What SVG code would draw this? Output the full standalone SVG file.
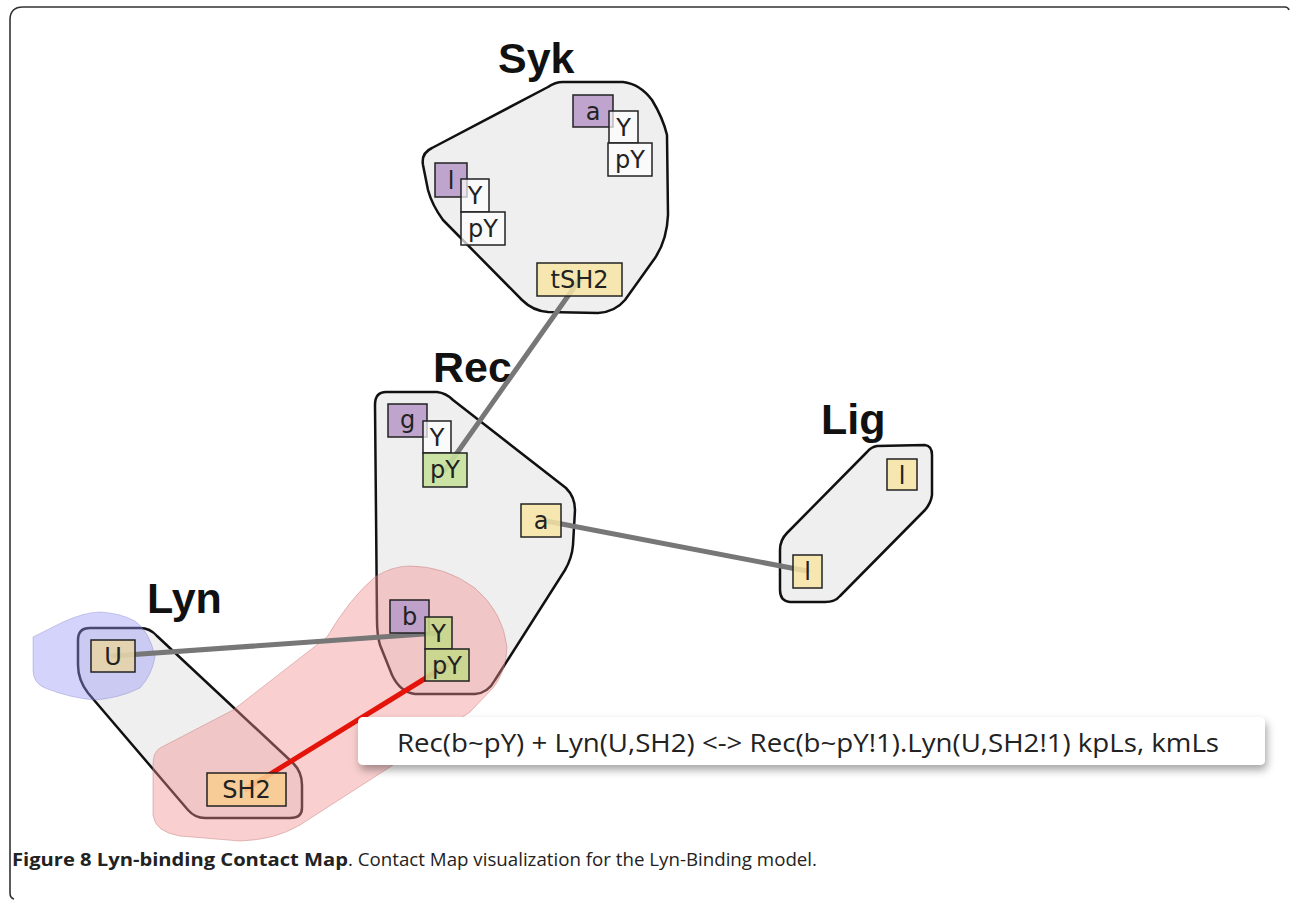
<svg xmlns="http://www.w3.org/2000/svg" width="1290" height="905" viewBox="0 0 1290 905">
<defs>
<style>
.cx{fill:#efefef;stroke:#111;stroke-width:2.5;stroke-linejoin:round}
.bx{stroke:#222;stroke-width:1.5}
.pu{fill:#b99bc9;fill-opacity:0.9}
.ye{fill:#f7e5a4;fill-opacity:0.85}
.gr{fill:#c6e29c;fill-opacity:0.9}
.gl{fill:#c6d78b;fill-opacity:0.9}
.wh{fill:#ffffff;fill-opacity:0.7}
.lb{font-family:"DejaVu Sans",sans-serif;font-size:24px;fill:#222;text-anchor:middle}
.ttl{font-family:"Liberation Sans",Arial,sans-serif;font-size:43px;font-weight:bold;fill:#111}
.cn{stroke:#777;stroke-width:5;stroke-linecap:round;fill:none}
</style>
<filter id="sh" x="-5%" y="-50%" width="110%" height="200%">
<feDropShadow dx="2" dy="5" stdDeviation="4" flood-color="#000" flood-opacity="0.35"/>
</filter>
</defs>
<rect width="1290" height="905" fill="#fff"/>
<path d="M14,899 Q10,898 10,893 L10,20 Q10,7 23,7 L1285,7 Q1288,7 1289,10" fill="none" stroke="#333" stroke-width="1.6"/>

<g id="syk">
<path class="cx" d="M563,82 L623,82 Q640,84 652,100 Q663,118 667,135 L668,215 Q667,240 655,258 L625,300 Q615,312 598,313 L548,312 Q533,311 522,300 L443,220 Q432,205 428,190 L423,165 Q421,153 432,148 L548,87 Q555,82 563,82 Z"/>
<text class="ttl" x="498" y="73">Syk</text>
</g>
<g id="rec">
<path class="cx" d="M386,392 L437,392 Q446,393 453,400 L566,488 Q575,497 575,510 L573,545 Q572,558 565,570 L495,680 Q488,693 475,694 L415,694 Q400,692 392,675 L380,645 Q377,635 377,620 L375,405 Q375,392 386,392 Z"/>
<text class="ttl" x="433" y="382">Rec</text>
</g>
<g id="lig">
<path class="cx" d="M877,446 L925,445 Q932,446 932,455 L932,495 Q931,503 925,510 L840,596 Q835,602 825,602 L790,602 Q780,601 780,590 L780,550 Q780,540 787,533 L867,452 Q871,447 877,446 Z"/>
<text class="ttl" x="821" y="434">Lig</text>
</g>
<g id="lyn">
<path class="cx" d="M90,628 L140,628 Q150,628 157,636 L293,763 Q302,772 302,785 L302,808 Q302,818 290,818 L205,818 Q195,818 188,810 L88,693 Q78,680 78,665 L78,640 Q78,628 90,628 Z"/>
<text class="ttl" x="147" y="613">Lyn</text>
</g>

<g id="highlights">
<path d="M33,637 L63,622 Q85,612 100,612 Q120,613 135,621 Q150,632 155,657 Q152,675 140,688 Q120,698 95,700 Q70,698 45,688 Q33,683 33,670 Z" fill="rgb(150,150,245)" fill-opacity="0.42" stroke="rgba(120,120,200,0.35)" stroke-width="1"/>
<path d="M160,748 L233,710 L327,637 Q350,598 375,577 Q392,566 410,566 Q445,566 475,588 Q503,612 507,647 Q506,672 493,688 L470,712 L390,767 L300,825 Q275,840 240,841 L180,836 Q155,832 153,815 L153,765 Q153,752 160,748 Z" fill="rgb(240,140,140)" fill-opacity="0.42" stroke="rgba(200,120,120,0.45)" stroke-width="1"/>
</g>

<g id="connectors">
<line class="cn" x1="580" y1="279" x2="445" y2="470"/>
<line class="cn" x1="541" y1="520" x2="807" y2="571"/>
<line class="cn" x1="113" y1="656" x2="438" y2="633"/>
<line class="cn" x1="246" y1="789" x2="447" y2="665" style="stroke:#e5140a"/>
</g>

<g id="syk-sites">
<rect class="bx pu" x="573" y="95" width="40" height="32"/>
<text class="lb" x="593" y="120">a</text>
<rect class="bx wh" x="609" y="111" width="29" height="32"/>
<text class="lb" x="623.5" y="136">Y</text>
<rect class="bx wh" x="608" y="143" width="44" height="33"/>
<text class="lb" x="630" y="168">pY</text>
<rect class="bx pu" x="435" y="163" width="32" height="34"/>
<text class="lb" x="451" y="189">l</text>
<rect class="bx wh" x="461" y="179" width="28" height="33"/>
<text class="lb" x="475" y="204">Y</text>
<rect class="bx wh" x="461" y="212" width="44" height="33"/>
<text class="lb" x="483" y="237">pY</text>
<rect class="bx ye" x="537" y="263" width="85" height="33"/>
<text class="lb" x="579.5" y="288">tSH2</text>
</g>
<g id="rec-sites">
<rect class="bx pu" x="388" y="404" width="39" height="33"/>
<text class="lb" x="407.5" y="428">g</text>
<rect class="bx wh" x="423" y="421" width="28" height="32"/>
<text class="lb" x="437" y="446">Y</text>
<rect class="bx gr" x="423" y="453" width="44" height="34"/>
<text class="lb" x="445" y="478">pY</text>
<rect class="bx ye" x="521" y="504" width="40" height="33"/>
<text class="lb" x="541" y="529">a</text>
<rect class="bx pu" x="390" y="600" width="39" height="33"/>
<text class="lb" x="409.5" y="625">b</text>
<rect class="bx gl" x="425" y="617" width="27" height="32"/>
<text class="lb" x="438.5" y="642">Y</text>
<rect class="bx gl" x="425" y="649" width="44" height="32"/>
<text class="lb" x="447" y="674">pY</text>
</g>
<g id="lig-sites">
<rect class="bx ye" x="887" y="459" width="30" height="31"/>
<text class="lb" x="902" y="484">l</text>
<rect class="bx ye" x="793" y="555" width="29" height="33"/>
<text class="lb" x="807.5" y="580">l</text>
</g>
<g id="lyn-sites">
<rect class="bx" x="91" y="640" width="44" height="32" fill="#e6d4a8" fill-opacity="0.9"/>
<text class="lb" x="113" y="665">U</text>
<rect class="bx" x="207" y="773" width="79" height="33" fill="#f8cc90" fill-opacity="0.9"/>
<text class="lb" x="246.5" y="798">SH2</text>
</g>

<g id="tooltip">
<rect x="358" y="717" width="907" height="48" rx="5" fill="#fff" filter="url(#sh)"/>
<text x="397" y="752" font-family="'Open Sans','Noto Sans',sans-serif" font-size="25" fill="#222" textLength="822" lengthAdjust="spacingAndGlyphs">Rec(b~pY) + Lyn(U,SH2) &lt;-&gt; Rec(b~pY!1).Lyn(U,SH2!1) kpLs, kmLs</text>
</g>

<g id="caption" font-family="'Open Sans','Noto Sans',sans-serif" font-size="18" fill="#222">
<text x="12" y="866" font-weight="bold" textLength="336" lengthAdjust="spacingAndGlyphs">Figure 8 Lyn-binding Contact Map</text>
<text x="348" y="866" textLength="469" lengthAdjust="spacingAndGlyphs">. Contact Map visualization for the Lyn-Binding model.</text>
</g>
</svg>
